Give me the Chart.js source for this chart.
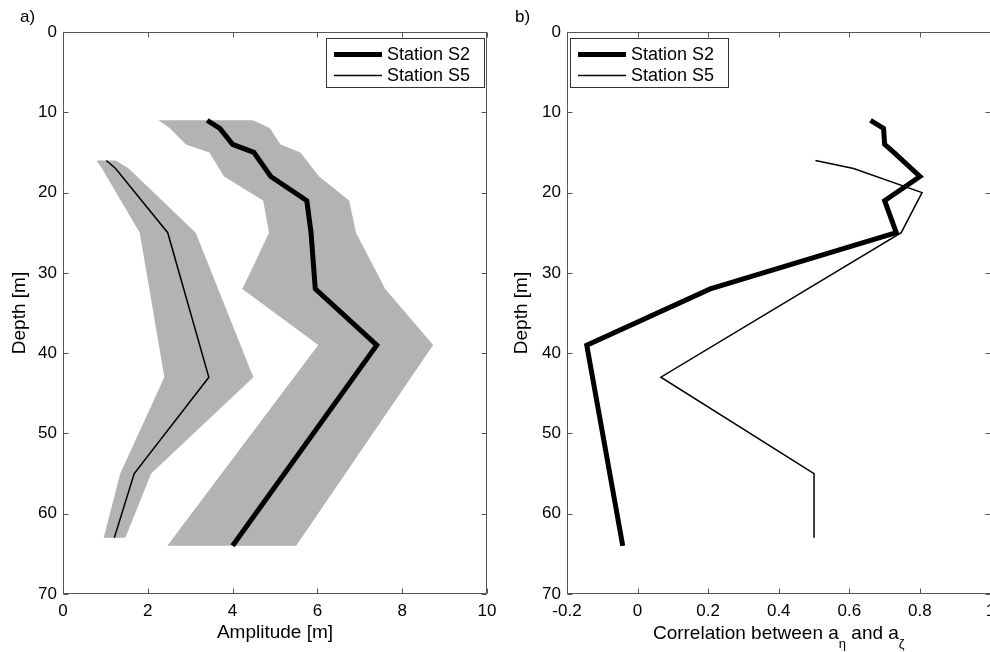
<!DOCTYPE html>
<html>
<head>
<meta charset="utf-8">
<title>Amplitude and correlation profiles</title>
<script src="https://cdn.jsdelivr.net/npm/chart.js"></script>
<style>
  html, body { margin: 0; padding: 0; background: #fff; }
  body { position: relative; width: 990px; height: 652px; overflow: hidden; }
  canvas { position: absolute; top: 0; }
  #ampChart { left: 0; }
  #corrChart { left: 495px; }
</style>
</head>
<body>
<canvas id="ampChart" width="520" height="652"></canvas>
<canvas id="corrChart" width="530" height="652"></canvas>
<script>
const depthTicks = [0, 10, 20, 30, 40, 50, 60, 70];
const ampTicks = [0, 2, 4, 6, 8, 10];
const corrTicks = [-0.2, 0, 0.2, 0.4, 0.6, 0.8, 1];

// station S2 amplitude with spread
const s2Depth = [11, 12, 14, 15, 18, 21, 25, 32, 39, 64];
const s2Amp = [3.4, 3.7, 4.0, 4.5, 4.9, 5.75, 5.85, 5.95, 7.4, 4.0];
const s2AmpLow = [2.25, 2.52, 2.9, 3.45, 3.8, 4.72, 4.86, 4.23, 6.02, 2.46];
const s2AmpHigh = [4.48, 4.88, 5.13, 5.6, 6.04, 6.75, 6.91, 7.6, 8.73, 5.5];

// station S5 amplitude with spread
const s5Depth = [16, 17, 25, 43, 55, 63];
const s5Amp = [1.02, 1.24, 2.47, 3.44, 1.68, 1.21];
const s5AmpLow = [0.79, 0.92, 1.81, 2.39, 1.35, 0.96];
const s5AmpHigh = [1.24, 1.55, 3.13, 4.49, 2.08, 1.47];

// correlation between a_eta and a_zeta
const s2CorrDepth = [11, 12, 14, 15, 18, 21, 25, 32, 39, 64];
const s2Corr = [0.66, 0.697, 0.70, 0.726, 0.80, 0.70, 0.733, 0.206, -0.144, -0.042];
const s5CorrDepth = [16, 17, 20, 25, 43, 55, 63];
const s5Corr = [0.504, 0.612, 0.806, 0.747, 0.066, 0.50, 0.50];

const FONT = '"Liberation Sans", Arial, sans-serif';
const BAND = '#b3b3b3';

function points(xs, ys) {
  return xs.map((v, i) => ({ x: v, y: ys[i] }));
}

// closed outline: low side going down, high side coming back up
function band(depth, low, high) {
  const pts = depth.map((d, i) => ({ x: low[i], y: d }));
  for (let i = depth.length - 1; i >= 0; i--) pts.push({ x: high[i], y: depth[i] });
  return pts;
}

function line(label, data, width) {
  return {
    label, data,
    borderColor: '#000', borderWidth: width,
    pointRadius: 0, fill: false, tension: 0,
  };
}

function area(data) {
  return {
    data, borderWidth: 0, borderColor: 'rgba(0,0,0,0)',
    backgroundColor: BAND, pointRadius: 0, fill: 'shape', tension: 0,
  };
}

// box around the plot with inward tick marks on every side
const frame = {
  id: 'frame',
  afterDatasetsDraw(chart) {
    const { ctx, chartArea: a, scales: { x, y } } = chart;
    const L = Math.round(a.left) + 0.5, R = Math.round(a.right) - 0.5;
    const T = Math.round(a.top) + 0.5, B = Math.round(a.bottom) - 0.5;
    ctx.save();
    ctx.strokeStyle = '#555';
    ctx.lineWidth = 1;
    ctx.strokeRect(L, T, R - L, B - T);
    ctx.beginPath();
    x.ticks.forEach((t) => {
      const px = Math.round(x.getPixelForValue(t.value)) + 0.5;
      ctx.moveTo(px, B); ctx.lineTo(px, B - 5);
      ctx.moveTo(px, T); ctx.lineTo(px, T + 5);
    });
    y.ticks.forEach((t) => {
      const py = Math.round(y.getPixelForValue(t.value)) + 0.5;
      ctx.moveTo(L, py); ctx.lineTo(L + 5, py);
      ctx.moveTo(R, py); ctx.lineTo(R - 5, py);
    });
    ctx.stroke();
    ctx.restore();
  },
};

const boxLegend = {
  id: 'boxLegend',
  afterDatasetsDraw(chart, args, opts) {
    const { ctx, chartArea: a } = chart;
    const items = chart.data.datasets.filter((ds) => ds.label);
    const w = 158, h = 49;
    const left = Math.round(opts.side === 'right' ? a.right - 3 - w : a.left + 3);
    const top = Math.round(a.top + 6);
    ctx.save();
    ctx.fillStyle = '#fff';
    ctx.fillRect(left, top, w, h);
    ctx.strokeStyle = '#333';
    ctx.lineWidth = 1;
    ctx.strokeRect(left + 0.5, top + 0.5, w, h);
    ctx.font = '18px ' + FONT;
    ctx.textBaseline = 'middle';
    ctx.fillStyle = '#000';
    items.forEach((ds, i) => {
      const y = top + 16.5 + i * 21;
      ctx.beginPath();
      ctx.lineWidth = ds.borderWidth;
      ctx.strokeStyle = ds.borderColor;
      ctx.moveTo(left + 8, y);
      ctx.lineTo(left + 56, y);
      ctx.stroke();
      ctx.fillText(ds.label, left + 61, y + 1);
    });
    ctx.restore();
  },
};

// axis title with subscripts, drawn piece by piece
const subTitle = {
  id: 'subTitle',
  afterDraw(chart, args, opts) {
    if (!opts.parts) return;
    const { ctx, chartArea: a } = chart;
    const big = '19px ' + FONT, small = '13px ' + FONT;
    let total = 0;
    const runs = opts.parts.map(([text, sub]) => {
      ctx.font = sub ? small : big;
      const w = ctx.measureText(text).width;
      total += w;
      return { text, sub, w };
    });
    let x = (a.left + a.right) / 2 - total / 2;
    ctx.save();
    ctx.fillStyle = '#000';
    ctx.textBaseline = 'alphabetic';
    runs.forEach((r) => {
      ctx.font = r.sub ? small : big;
      ctx.fillText(r.text, x, r.sub ? 648 : 639);
      x += r.w;
    });
    ctx.restore();
  },
};

const panelTag = {
  id: 'panelTag',
  afterDraw(chart, args, opts) {
    const { ctx } = chart;
    ctx.save();
    ctx.font = '17px ' + FONT;
    ctx.fillStyle = '#000';
    ctx.textBaseline = 'alphabetic';
    ctx.fillText(opts.text, 20, 22);
    ctx.restore();
  },
};

function depthAxis(width, titlePad) {
  return {
    type: 'linear', reverse: true, min: 0, max: 70,
    afterBuildTicks: (s) => { s.ticks = depthTicks.map((v) => ({ value: v })); },
    afterFit: (s) => { s.width = width; s.paddingTop = 0; s.paddingBottom = 0; },
    grid: { display: false, drawTicks: false },
    border: { display: false },
    ticks: { color: '#000', font: { family: FONT, size: 17 }, padding: 6, callback: (v) => String(v) },
    title: { display: true, text: 'Depth [m]', color: '#000', font: { family: FONT, size: 19 }, padding: { top: titlePad } },
  };
}

function valueAxis(values, titleText) {
  return {
    type: 'linear', position: 'bottom',
    min: values[0], max: values[values.length - 1],
    afterBuildTicks: (s) => { s.ticks = values.map((v) => ({ value: v })); },
    afterFit: (s) => { s.height = 58; s.paddingLeft = 0; s.paddingRight = 0; },
    grid: { display: false, drawTicks: false },
    border: { display: false },
    ticks: { color: '#000', font: { family: FONT, size: 17 }, padding: 7, maxRotation: 0, autoSkip: false, callback: (v) => String(v) },
    title: { display: !!titleText, text: titleText || '', color: '#000', font: { family: FONT, size: 19 }, padding: { bottom: 8 } },
  };
}

const common = {
  responsive: false,
  animation: false,
  events: [],
  plugins: { legend: { display: false }, tooltip: { enabled: false } },
};

new Chart(document.getElementById('ampChart'), {
  type: 'line',
  data: {
    datasets: [
      line('Station S2', points(s2Amp, s2Depth), 5),
      line('Station S5', points(s5Amp, s5Depth), 1.5),
      area(band(s2Depth, s2AmpLow, s2AmpHigh)),
      area(band(s5Depth, s5AmpLow, s5AmpHigh)),
    ],
  },
  options: {
    ...common,
    layout: { padding: { left: 0, right: 33, top: 32, bottom: 0 } },
    scales: { x: valueAxis(ampTicks, 'Amplitude [m]'), y: depthAxis(63, 8) },
    plugins: { ...common.plugins, boxLegend: { side: 'right' }, panelTag: { text: 'a)' } },
  },
  plugins: [frame, boxLegend, panelTag],
});

new Chart(document.getElementById('corrChart'), {
  type: 'line',
  data: {
    datasets: [
      line('Station S2', points(s2Corr, s2CorrDepth), 5),
      line('Station S5', points(s5Corr, s5CorrDepth), 1.5),
    ],
  },
  options: {
    ...common,
    layout: { padding: { left: 0, right: 34.5, top: 32, bottom: 0 } },
    scales: { x: valueAxis(corrTicks, ''), y: depthAxis(72, 15.5) },
    plugins: {
      ...common.plugins,
      boxLegend: { side: 'left' },
      panelTag: { text: 'b)' },
      subTitle: { parts: [['Correlation between a', false], ['\u03b7', true], [' and a', false], ['\u03b6', true]] },
    },
  },
  plugins: [frame, boxLegend, subTitle, panelTag],
});
</script>
</body>
</html>
